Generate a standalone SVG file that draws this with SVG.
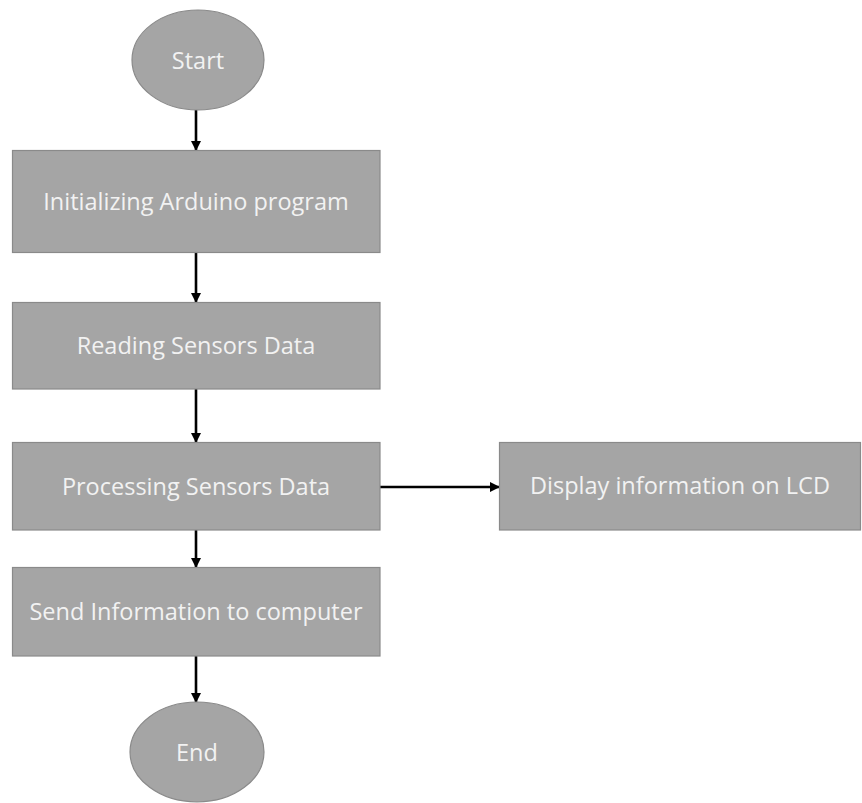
<svg xmlns="http://www.w3.org/2000/svg" width="862" height="803" viewBox="0 0 862 803">
  <style>
    .shape { fill: #a5a5a5; stroke: #8a8a8a; stroke-width: 1.2; }
    .label { font-family: "Open Sans", "Liberation Sans", sans-serif; font-size: 23.5px; fill: #f2f2f2; text-anchor: middle; }
    .edge { stroke: #000; stroke-width: 2.6; fill: none; marker-end: url(#arrow); }
  </style>
  <defs>
    <marker id="arrow" viewBox="0 0 10 10" refX="9" refY="5" markerWidth="4" markerHeight="4" orient="auto" markerUnits="strokeWidth">
      <path d="M0,0 L10,5 L0,10 z" fill="#000"/>
    </marker>
  </defs>
  <rect width="862" height="803" fill="#fff"/>

  <g id="connectors">
    <line class="edge" x1="196" y1="110" x2="196" y2="150"/>
    <line class="edge" x1="196" y1="252" x2="196" y2="302"/>
    <line class="edge" x1="196" y1="389" x2="196" y2="442"/>
    <line class="edge" x1="380" y1="487" x2="499" y2="487"/>
    <line class="edge" x1="196" y1="530" x2="196" y2="567"/>
    <line class="edge" x1="196" y1="656" x2="196" y2="702"/>
  </g>

  <g id="start">
    <ellipse class="shape" cx="198" cy="60" rx="66" ry="50"/>
    <text class="label" x="198" y="69">Start</text>
  </g>
  <g id="init">
    <rect class="shape" x="12.5" y="150.5" width="367.5" height="102"/>
    <text class="label" x="196" y="210">Initializing Arduino program</text>
  </g>
  <g id="read">
    <rect class="shape" x="12.5" y="302.5" width="367.5" height="86.5"/>
    <text class="label" x="196" y="354">Reading Sensors Data</text>
  </g>
  <g id="process">
    <rect class="shape" x="12.5" y="442.5" width="367.5" height="87.5"/>
    <text class="label" x="196" y="495">Processing Sensors Data</text>
  </g>
  <g id="display">
    <rect class="shape" x="499.5" y="442.5" width="361" height="87.5"/>
    <text class="label" x="680" y="494">Display information on LCD</text>
  </g>
  <g id="send">
    <rect class="shape" x="12.5" y="567.5" width="367.5" height="88.5"/>
    <text class="label" x="196" y="620">Send Information to computer</text>
  </g>
  <g id="end">
    <ellipse class="shape" cx="197" cy="752" rx="67" ry="50"/>
    <text class="label" x="197" y="761">End</text>
  </g>
</svg>
